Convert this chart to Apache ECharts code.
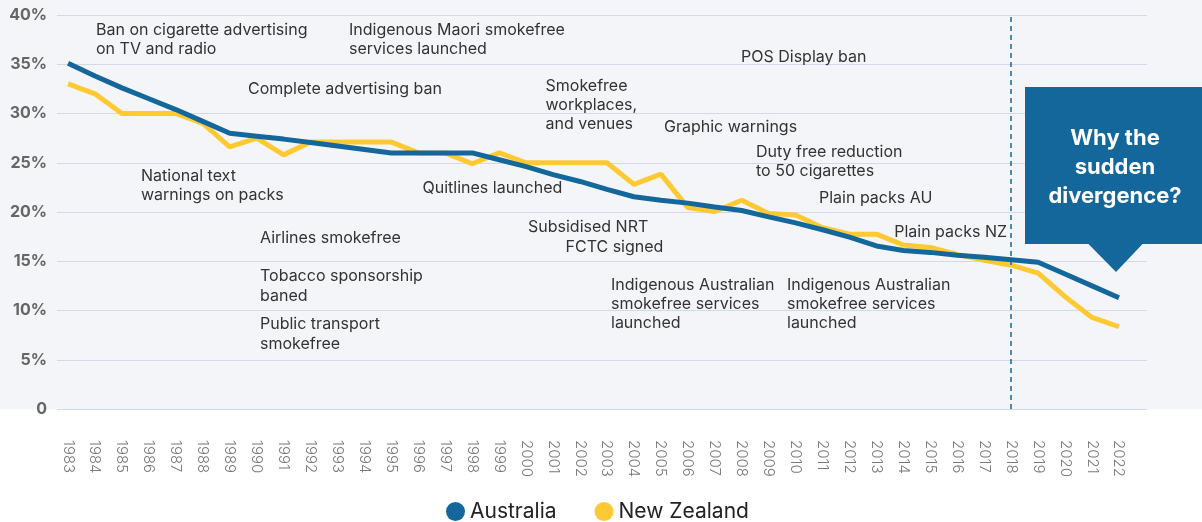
<!DOCTYPE html>
<html>
<head>
<meta charset="utf-8">
<script src="https://cdn.jsdelivr.net/npm/echarts@6/dist/echarts.min.js"></script>
<style>
  html, body { margin: 0; padding: 0; background: #fff; }
  #container { width: 1202px; height: 522px; }
</style>
</head>
<body>
<div id="container"></div>
<script>
// years on the x axis
var years = [];
for (var y = 1983; y <= 2022; y++) years.push(y);

// smoking prevalence, %
var australia = [35.1, 33.8, 32.6, 31.5, 30.4, 29.2, 28.0, 27.7, 27.4, 27.05, 26.7, 26.35, 26.0, 26.0, 26.0, 26.0,
    25.3, 24.6, 23.8, 23.1, 22.3, 21.55, 21.2, 20.9, 20.5, 20.15, 19.5, 18.9, 18.2, 17.45, 16.55, 16.1, 15.9, 15.6,
    15.4, 15.15, 14.9, 13.7, 12.5, 11.3];
var newZealand = [33.0, 32.0, 30.0, 30.0, 30.0, 29.0, 26.6, 27.5, 25.8, 27.1, 27.1, 27.1, 27.1, 26.0, 26.0, 24.9,
    26.0, 25.0, 25.0, 25.0, 25.0, 22.8, 23.85, 20.45, 20.05, 21.2, 19.85, 19.7, 18.4, 17.75, 17.75, 16.65, 16.4, 15.7,
    15.1, 14.6, 13.8, 11.4, 9.3, 8.35];

var yTicks = [0, 5, 10, 15, 20, 25, 30, 35, 40];
var divergenceYear = 2018;

// policy notes (text only)
var notes = [
    'Ban on cigarette advertising\non TV and radio',
    'Indigenous Maori smokefree\nservices launched',
    'Complete advertising ban',
    'POS Display ban',
    'Smokefree\nworkplaces,\nand venues',
    'Graphic warnings',
    'Duty free reduction\nto 50 cigarettes',
    'Plain packs AU',
    'Plain packs NZ',
    'National text\nwarnings on packs',
    'Quitlines launched',
    'Airlines smokefree',
    'Tobacco sponsorship\nbaned',
    'Public transport\nsmokefree',
    'Subsidised NRT',
    'FCTC signed',
    'Indigenous Australian\nsmokefree services\nlaunched',
    'Indigenous Australian\nsmokefree services\nlaunched'
];
// where each note sits on the page: [x, y of first line centre, align]
var notePos = [
    [96, 30], [349, 30], [248, 89.5], [741, 57], [545.5, 86], [664, 127], [756, 152], [819, 198],
    [1007, 232, 'right'], [141, 176], [422.5, 188], [260, 238], [260, 276.5], [260, 324.5],
    [528, 227.5], [565.5, 247.5], [611, 284.7], [787, 284.7]
];

var calloutText = 'Why the\nsudden\ndivergence?';

var BLUE = '#13679b';
var YELLOW = '#ffc933';
var FONT = 'Inter, "Noto Sans", sans-serif';

function pairs(vals) {
    var res = [];
    for (var i = 0; i < vals.length; i++) res.push([years[i], vals[i]]);
    return res;
}

var graphics = [
    { type: 'rect', z: -10, silent: true, shape: { x: 0, y: 0, width: 1202, height: 409.5 }, style: { fill: '#f4f5f8' } }
];
var LH = 19.3;
for (var i = 0; i < notes.length; i++) {
    var p = notePos[i];
    graphics.push({
        type: 'text',
        z: 5,
        silent: true,
        style: {
            text: notes[i],
            x: p[0],
            y: p[1] - LH / 2,
            align: p[2] || 'left',
            verticalAlign: 'top',
            lineHeight: LH,
            fill: '#333',
            font: '16px ' + FONT
        }
    });
}
// callout box
graphics.push({
    type: 'rect', z: 6, silent: true,
    shape: { x: 1025, y: 87, width: 177, height: 157 },
    style: { fill: BLUE }
});
graphics.push({
    type: 'polygon', z: 6, silent: true,
    shape: { points: [[1088, 243.5], [1143, 243.5], [1116, 272]] },
    style: { fill: BLUE }
});
graphics.push({
    type: 'text', z: 7, silent: true,
    style: {
        text: calloutText, x: 1115, y: 138 - 14.5, align: 'center', verticalAlign: 'top',
        lineHeight: 29, fill: '#fff', font: 'bold 22px ' + FONT
    }
});

var myChart = echarts.init(document.getElementById('container'));
var option = {
    backgroundColor: '#fff',
    animation: false,
    grid: { left: 57, right: 55, top: 15, bottom: 113 },
    legend: {
        data: ['Australia', 'New Zealand'],
        left: 441,
        top: 496,
        icon: 'circle',
        itemWidth: 19,
        itemHeight: 19,
        itemGap: 38,
        textStyle: { fontFamily: FONT, fontSize: 21, color: '#222' }
    },
    xAxis: {
        type: 'value',
        min: 1982.59,
        max: 2023.04,
        axisLine: { show: false },
        axisTick: { show: false },
        splitLine: { show: false },
        axisLabel: {
            customValues: years,
            rotate: -90,
            margin: 31,
            color: '#7a7a7a',
            fontFamily: FONT,
            fontSize: 15,
            fontWeight: 300,
            formatter: function (v) { return String(v); }
        }
    },
    yAxis: {
        type: 'value',
        min: 0,
        max: 40,
        interval: 5,
        axisLine: { show: false },
        axisTick: { show: false },
        splitLine: { lineStyle: { color: '#d3d9e8', width: 1.2 } },
        axisLabel: {
            customValues: yTicks,
            margin: 10,
            color: '#666',
            fontFamily: FONT,
            fontWeight: 'bold',
            fontSize: 16,
            formatter: function (v) { return v === 0 ? '0' : v + '%'; }
        }
    },
    series: [
        {
            name: 'New Zealand',
            type: 'line',
            data: pairs(newZealand),
            symbol: 'none',
            z: 2,
            lineStyle: { color: YELLOW, width: 5 },
            itemStyle: { color: YELLOW }
        },
        {
            name: 'Australia',
            type: 'line',
            data: pairs(australia),
            symbol: 'none',
            z: 3,
            lineStyle: { color: BLUE, width: 5 },
            itemStyle: { color: BLUE },
            markLine: {
                silent: true,
                symbol: 'none',
                label: { show: false },
                lineStyle: { color: BLUE, type: [5, 4], width: 1.5 },
                data: [{ xAxis: divergenceYear }]
            }
        }
    ],
    graphic: graphics
};
if (option && typeof option === "object") {
    myChart.setOption(option, true);
}
</script>
</body>
</html>
